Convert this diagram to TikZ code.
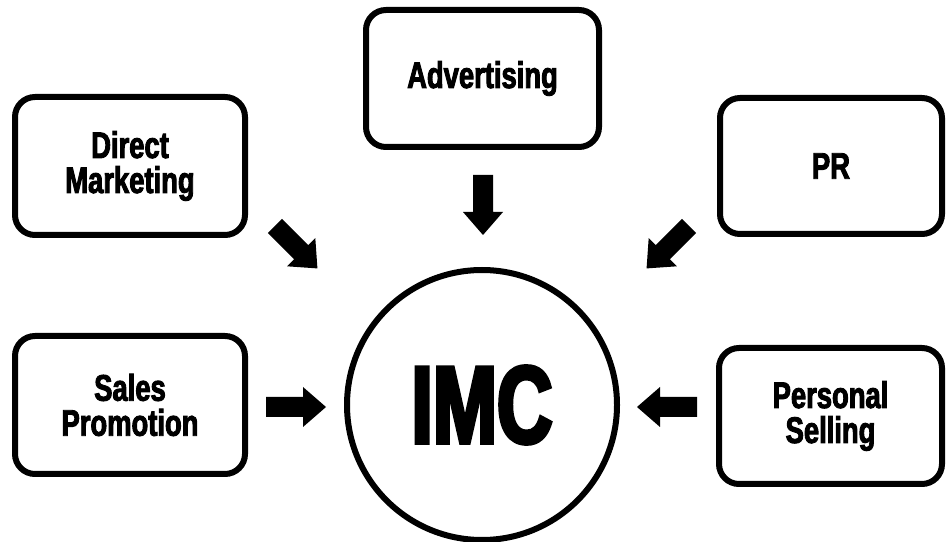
\documentclass[tikz,border=0pt]{standalone}
\usepackage{fontspec}
\newfontfamily\lblfont[FakeStretch=0.74,FakeBold=2.5]{Liberation Sans}
\newfontfamily\imcfont[FakeStretch=0.70,FakeBold=3.5]{Liberation Sans}
\begin{document}
\begin{tikzpicture}[x=1pt,y=1pt,
  box/.style={draw=black, line width=6pt, rounded corners=20pt, inner sep=0pt,
    align=center, font=\lblfont\bfseries\fontsize{37}{35}\selectfont},
  hub/.style={circle, draw=black, line width=6pt, inner sep=0pt, minimum size=270pt,
    font=\imcfont\bfseries\fontsize{110}{110}\selectfont},
  blockarrow/.pic={\fill[black] (0,-10) -- (37,-10) -- (37,-20) -- (60,0) -- (37,20) -- (37,10) -- (0,10) -- cycle;}
]
\useasboundingbox (0,0) rectangle (948,541);
\fill[white] (0,0) rectangle (948,541);

\node[box, minimum width=233pt, minimum height=137pt] (adv) at (482.5,462.5) {Advertising};
\node[box, minimum width=230pt, minimum height=138pt] (dm) at (130,375) {Direct\\Marketing};
\node[box, minimum width=222pt, minimum height=136pt] (pr) at (831,375) {PR};
\node[box, minimum width=230pt, minimum height=138pt] (sp) at (130,136) {Sales\\Promotion};
\node[box, minimum width=223pt, minimum height=136pt] (ps) at (830.5,125) {Personal\\Selling};
\node[hub] (imc) at (482,136) {IMC};

\coordinate (advtail) at (483,366);
\coordinate (dmtail) at (275,315);
\coordinate (prtail) at (689,315);
\coordinate (sptail) at (266,134);
\coordinate (pstail) at (697,134);

\pic[rotate=-90] at (advtail) {blockarrow};
\pic[rotate=-45] at (dmtail) {blockarrow};
\pic[rotate=-135] at (prtail) {blockarrow};
\pic[rotate=0] at (sptail) {blockarrow};
\pic[rotate=180] at (pstail) {blockarrow};
\end{tikzpicture}
\end{document}
